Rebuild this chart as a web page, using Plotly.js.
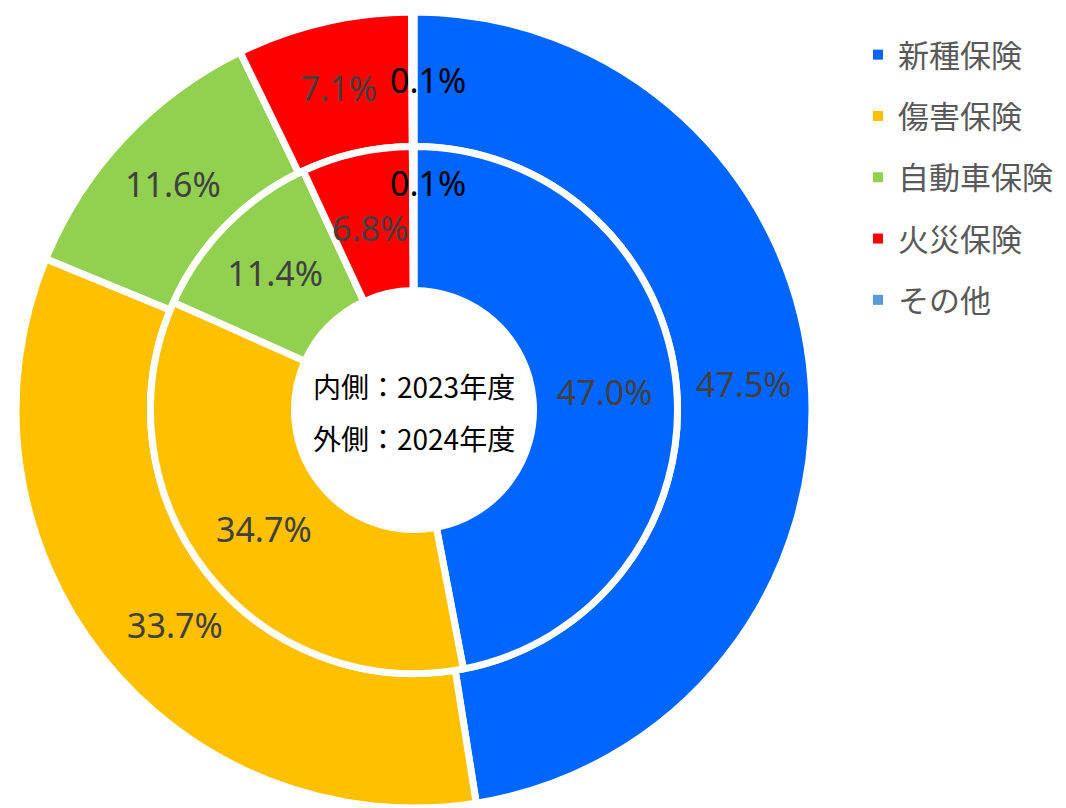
<!DOCTYPE html>
<html>
<head>
<meta charset="utf-8">
<script src="https://cdn.plot.ly/plotly-3.0.1.min.js"></script>
<style>html,body{margin:0;padding:0;background:#fff;}#chart{width:1066px;height:808px;}</style>
</head>
<body>
<div id="chart"></div>
<script>
// Data
const categories = ["新種保険", "傷害保険", "自動車保険", "火災保険", "その他"];
const share2023 = [47.0, 34.7, 11.4, 6.8, 0.1];   // inner ring
const share2024 = [47.5, 33.7, 11.6, 7.1, 0.1];   // outer ring
const centerLines = ["内側：2023年度", "外側：2024年度"];

// Styles
const colors = ["#0066FF", "#FFC000", "#92D050", "#FF0000", "#5B9BD5"];
const W = 1066, H = 808;
const cx = 414, cyTop = 410, cy = H - cyTop;
const rOuter = 398, rMid = 263.5;
const lineW = 7;
const labelFont = "Noto Sans, sans-serif";

function dom(r) {
  return {x: [(cx - r) / W, (cx + r) / W], y: [Math.max(0, (cy - r) / H), (cy + r) / H]};
}

// label placement: slices whose labels sit where the library would not put them
// are labelled with annotations (pixel spots of the label, index of slice)
const outerManual = {1: [175, 625, "#404040"], 4: [428, 80, "#000000"]};
const innerManual = {3: [370, 228, "#404040"], 4: [428, 183, "#000000"]};
const posFor = (manual) => categories.map((c, i) => (i in manual) ? "none" : "inside");

const pieCommon = {
  type: "pie",
  labels: categories,
  sort: false,
  direction: "clockwise",
  rotation: 0,
  marker: {colors: colors, line: {color: "#ffffff", width: lineW}},
  texttemplate: "%{value:.1f}%",
  insidetextorientation: "horizontal",
  textfont: {family: labelFont, size: 34, color: "#404040"},
  hoverinfo: "label+value",
  showlegend: false
};

const outer = Object.assign({}, pieCommon, {
  values: share2024, name: "2024年度", textposition: posFor(outerManual),
  domain: dom(rOuter), hole: rMid / rOuter
});
const inner = Object.assign({}, pieCommon, {
  values: share2023, name: "2023年度", textposition: posFor(innerManual),
  domain: dom(rMid), hole: 0.4535
});

// legend-only entries
const legendTraces = categories.map((c, i) => ({
  type: "scatter", x: [null], y: [null], mode: "markers",
  name: c, legendgroup: "g" + i,
  marker: {symbol: "square", size: 10, color: colors[i], line: {width: 0}},
  hoverinfo: "skip"
}));

const annotations = centerLines.map((t, i) => ({
  text: t, showarrow: false, xref: "paper", yref: "paper",
  x: cx / W, y: 1 - (386 + i * 52) / H, xanchor: "center", yanchor: "middle",
  font: {family: "Noto Sans CJK JP, sans-serif", size: 28, color: "#000000"}
}));
[[outerManual, share2024], [innerManual, share2023]].forEach(([manual, vals]) => {
  Object.keys(manual).forEach((k) => {
    const [px, py, col] = manual[k];
    annotations.push({
      text: vals[k].toFixed(1) + "%", showarrow: false, xref: "paper", yref: "paper",
      x: px / W, y: 1 - py / H, xanchor: "center", yanchor: "middle",
      font: {family: labelFont, size: 34, color: col}
    });
  });
});

const layout = {
  width: W, height: H,
  margin: {l: 0, r: 0, t: 0, b: 0},
  paper_bgcolor: "#ffffff", plot_bgcolor: "#ffffff",
  xaxis: {visible: false}, yaxis: {visible: false},
  uniformtext: {minsize: 34, mode: "show"},
  showlegend: true,
  legend: {
    x: 858 / W, xanchor: "left", y: 1 - 28 / H, yanchor: "top",
    font: {family: "Noto Sans CJK JP, sans-serif", size: 31, color: "#595959"},
    tracegroupgap: 18, bgcolor: "rgba(0,0,0,0)"
  },
  annotations: annotations
};

Plotly.newPlot("chart", [outer, inner].concat(legendTraces), layout, {displayModeBar: false, staticPlot: true});
</script>
</body>
</html>
